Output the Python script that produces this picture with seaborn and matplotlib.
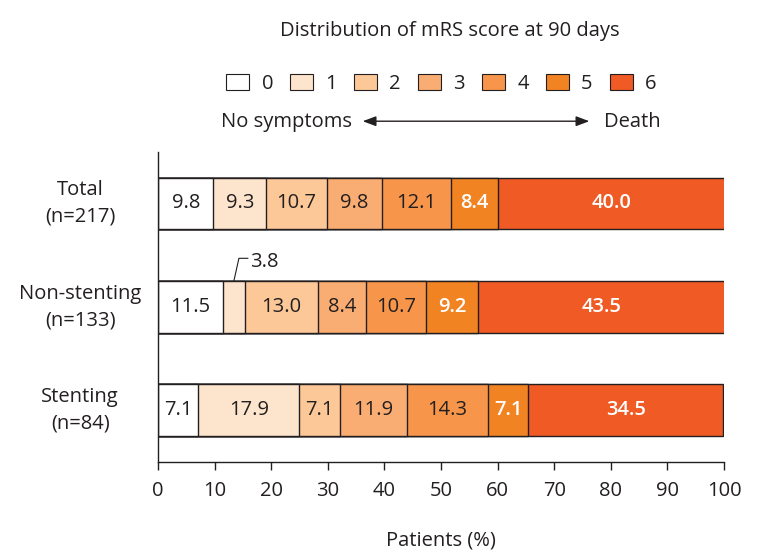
import numpy as np
import pandas as pd
import matplotlib
matplotlib.use("Agg")
import matplotlib.pyplot as plt
import seaborn as sns
from matplotlib.patches import Patch

# Data
groups = ["Total\n(n=217)", "Non-stenting\n(n=133)", "Stenting\n(n=84)"]
scores = ["0", "1", "2", "3", "4", "5", "6"]
total = [9.8, 9.3, 10.7, 9.8, 12.1, 8.4, 40.0]
non_stenting = [11.5, 3.8, 13.0, 8.4, 10.7, 9.2, 43.5]
stenting = [7.1, 17.9, 7.1, 11.9, 14.3, 7.1, 34.5]
colors = ["#ffffff", "#fde4cc", "#fcc898", "#faad72", "#f7964a", "#f28323", "#ef5a25"]
text_colors = ["#231f20"] * 5 + ["white"] * 2

sns.set_theme(style="white")
plt.rcParams['font.family'] = ['Open Sans', 'DejaVu Sans']
plt.rcParams['text.color'] = '#231f20'
FS = 14.5

df = pd.DataFrame([total, non_stenting, stenting], index=groups, columns=scores)
cum = df.cumsum(axis=1)

fig = plt.figure(figsize=(7.61, 5.56), dpi=100)
ax = fig.add_axes([0.2076, 0.169, 0.7438, 0.558])

# stacked bars: draw cumulative totals from the widest down
for i in range(len(scores) - 1, -1, -1):
    sns.barplot(x=cum[scores[i]].values, y=groups, orient="h", ax=ax,
                color=colors[i], edgecolor="#231f20", linewidth=1,
                width=0.5, saturation=1)

# value labels
for r, g in enumerate(groups):
    for i, s in enumerate(scores):
        v = df.loc[g, s]
        mid = cum.loc[g, s] - v / 2
        if g.startswith("Non") and s == "1":
            ax.plot([mid, mid + 0.9, mid + 2.5], [r - 0.25, r - 0.47, r - 0.47],
                    color="#231f20", lw=0.8)
            ax.text(mid + 2.9, r - 0.43, f"{v:.1f}", ha="left", va="center",
                    fontsize=FS, color="#231f20")
            continue
        ax.text(mid, r, f"{v:.1f}", ha="center", va="center", fontsize=FS,
                color=text_colors[i], fontweight="semibold" if i >= 5 else "normal")

ax.set_xlim(0, 100)
ax.set_ylim(2.5, -0.5)
ax.set_xticks(np.arange(0, 101, 10))
ax.set_xlabel("Patients (%)", fontsize=FS, labelpad=21, color="#231f20")
ax.set_ylabel("")
ax.tick_params(axis="x", length=6, width=1, colors="#231f20", labelsize=FS, pad=8, bottom=True)
ax.tick_params(axis="y", length=0, labelsize=FS, pad=56)
for lab in ax.get_yticklabels():
    lab.set_ha("center")
    lab.set_va("center")
    lab.set_multialignment("center")
    lab.set_linespacing(1.45)
    lab.set_color("#231f20")
sns.despine(ax=ax)
for sp in ["left", "bottom"]:
    ax.spines[sp].set_color("#231f20")
    ax.spines[sp].set_linewidth(1)

# header: title, legend, arrow
fig.text(0.591, 0.944, "Distribution of mRS score at 90 days", ha="center",
         va="center", fontsize=FS)
handles = [Patch(facecolor=c, edgecolor="#231f20", linewidth=0.8) for c in colors]
fig.legend(handles, scores, loc="center", bbox_to_anchor=(0.580, 0.849), ncol=7,
           frameon=False, fontsize=FS, handlelength=1.15, handleheight=0.8,
           handletextpad=0.6, columnspacing=0.85)
fig.text(0.291, 0.781, "No symptoms", ha="left", va="center", fontsize=FS)
fig.text(0.868, 0.781, "Death", ha="right", va="center", fontsize=FS)
fig.add_artist(matplotlib.patches.FancyArrowPatch(
    (0.473, 0.782), (0.778, 0.782), transform=fig.transFigure,
    arrowstyle="<|-|>,head_length=8,head_width=3", color="#231f20",
    lw=1, mutation_scale=1))

fig.savefig("out.png", dpi=100)
